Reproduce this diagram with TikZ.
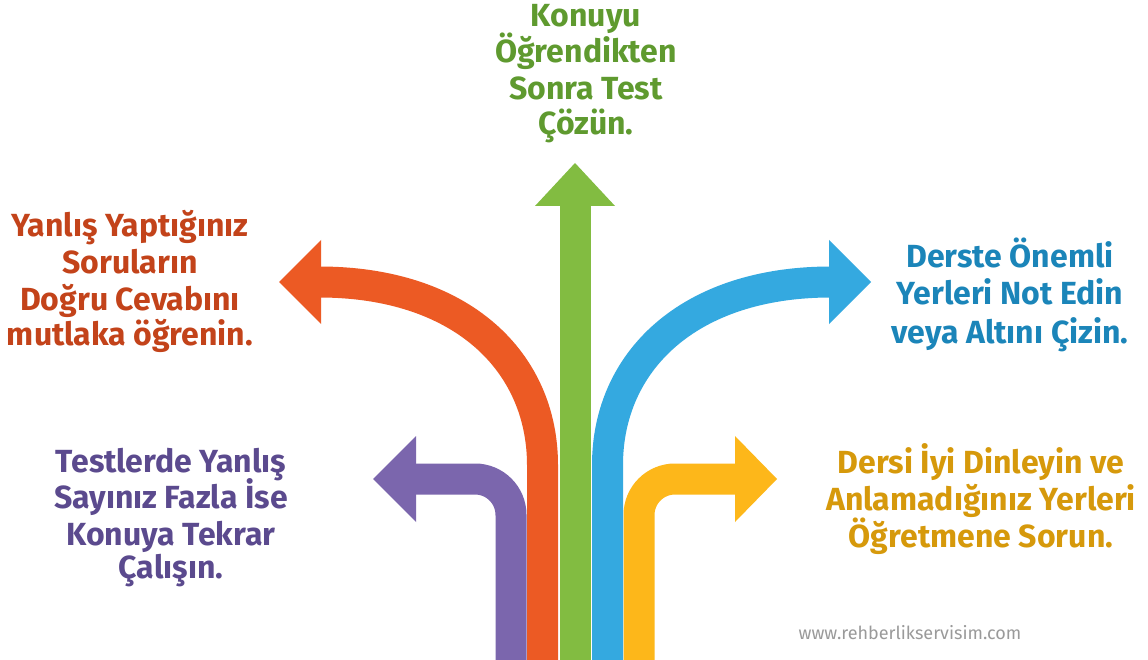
\documentclass[tikz,border=0pt]{standalone}
\usepackage{fontspec}
\setmainfont{Fira Sans}
\definecolor{cPurple}{HTML}{7B66AD}
\definecolor{cOrange}{HTML}{EC5A24}
\definecolor{cGreen}{HTML}{82BC41}
\definecolor{cBlue}{HTML}{34A9E0}
\definecolor{cYellow}{HTML}{FDB71A}
\definecolor{tPurple}{HTML}{5B4A8E}
\definecolor{tOrange}{HTML}{C3431A}
\definecolor{tGreen}{HTML}{5F9A2F}
\definecolor{tBlue}{HTML}{1B85B9}
\definecolor{tYellow}{HTML}{D6990B}
\definecolor{tGray}{HTML}{9A9A9A}
\begin{document}
\begin{tikzpicture}[x=1pt,y=-1pt,
  band/.style={line width=31pt, line cap=butt},
  txt/.style={font=\bfseries\fontsize{32}{38}\selectfont, anchor=base, inner sep=0pt},
  wm/.style={font=\fontsize{18}{20}\selectfont, text=tGray, anchor=base, inner sep=0pt}]
\useasboundingbox (0,0) rectangle (1148,660);
\fill[white] (0,0) rectangle (1148,660);

% named coordinates
\coordinate (pS) at (511,660);   \coordinate (pK) at (511,479);   \coordinate (pE) at (414,479);
\coordinate (yS) at (639,660);   \coordinate (yK) at (639,479);   \coordinate (yE) at (737,479);
\coordinate (oS) at (542.5,660); \coordinate (oK) at (542.5,465); \coordinate (oE) at (319,282);
\coordinate (bS) at (607.5,660); \coordinate (bK) at (607.5,465); \coordinate (bE) at (831,282);
\coordinate (gS) at (575,660);   \coordinate (gE) at (575,204);

% purple
\draw[band, draw=cPurple, rounded corners=36pt] (pS) -- (pK) -- (pE);
\fill[cPurple] (416,436) -- (373,479) -- (416,522) -- cycle;
% yellow
\draw[band, draw=cYellow, rounded corners=36pt] (yS) -- (yK) -- (yE);
\fill[cYellow] (735,436) -- (777,479) -- (735,522) -- cycle;
% orange
\draw[band, draw=cOrange] (oS) -- (oK) .. controls (542.5,362) and (462,282) .. (oE);
\fill[cOrange] (321,240) -- (279,282) -- (321,324) -- cycle;
% blue
\draw[band, draw=cBlue] (bS) -- (bK) .. controls (607.5,362) and (688,282) .. (bE);
\fill[cBlue] (829,240) -- (871,282) -- (829,324) -- cycle;
% green
\draw[band, draw=cGreen] (gS) -- (gE);
\fill[cGreen] (535,206) -- (575,163) -- (615,206) -- cycle;

% texts
\node[txt, text=tGreen] (g1) at (586,27) {Konuyu};
\node[txt, text=tGreen] (g2) at (586,63) {Öğrendikten};
\node[txt, text=tGreen] (g3) at (586,100) {Sonra Test};
\node[txt, text=tGreen] (g4) at (586,135) {Çözün.};

\node[txt, text=tOrange] (o1) at (130,237) {Yanlış Yaptığınız};
\node[txt, text=tOrange] (o2) at (130,273) {Soruların};
\node[txt, text=tOrange] (o3) at (130,310) {Doğru Cevabını};
\node[txt, text=tOrange] (o4) at (130,345) {mutlaka öğrenin.};

\node[txt, text=tBlue] (b1) at (1010,268) {Derste Önemli};
\node[txt, text=tBlue] (b2) at (1010,305) {Yerleri Not Edin};
\node[txt, text=tBlue] (b3) at (1010,343) {veya Altını Çizin.};

\node[txt, text=tPurple] (p1) at (171,472) {Testlerde Yanlış};
\node[txt, text=tPurple] (p2) at (171,508) {Sayınız Fazla İse};
\node[txt, text=tPurple] (p3) at (171,545) {Konuya Tekrar};
\node[txt, text=tPurple] (p4) at (171,578) {Çalışın.};

\node[txt, text=tYellow] (y1) at (981,473) {Dersi İyi Dinleyin ve};
\node[txt, text=tYellow] (y2) at (981,510) {Anlamadığınız Yerleri};
\node[txt, text=tYellow] (y3) at (981,547) {Öğretmene Sorun.};

\node[wm] (w) at (910,639) {www.rehberlikservisim.com};
\end{tikzpicture}
\end{document}
